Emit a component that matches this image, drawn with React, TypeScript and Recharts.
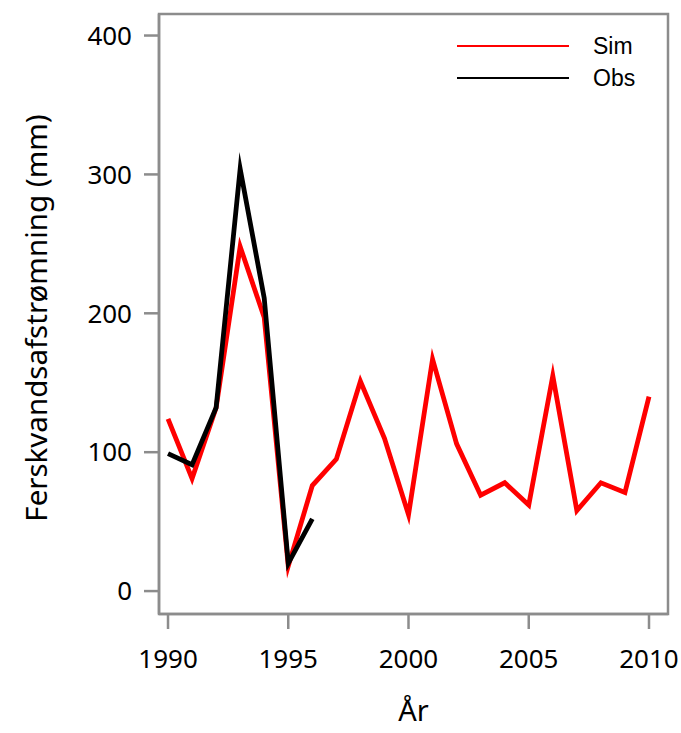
import React from 'react';
import { LineChart, Line, XAxis, YAxis, ReferenceArea, Legend } from 'recharts';

const years = [1990, 1991, 1992, 1993, 1994, 1995, 1996, 1997, 1998, 1999, 2000, 2001, 2002, 2003, 2004, 2005, 2006, 2007, 2008, 2009, 2010];
const simValues = [124, 81, 132, 248, 197, 18, 76, 95, 151, 110, 55, 167, 106, 69, 78, 62, 155, 58, 78, 71, 140];
const obsValues = [99, 91, 132, 304, 211, 20, 52];
const xTicks = [1990, 1995, 2000, 2005, 2010];
const yTicks = [0, 100, 200, 300, 400];
const xDomain = [1989.625, 2010.79];
const yDomain = [-16.5, 415.5];

const data = years.map((y, i) => ({
  year: y,
  sim: simValues[i],
  obs: i < obsValues.length ? obsValues[i] : null,
}));

const AXIS = '#8c8c8c';
const FONT = '"Noto Sans", sans-serif';

const legendItems = [
  { label: 'Sim', color: '#ff0000' },
  { label: 'Obs', color: '#000000' },
];

const LegendContent = () => (
  <div style={{ fontFamily: '"Liberation Sans", Arial, sans-serif', fontSize: 23, color: '#000' }}>
    {legendItems.map((it) => (
      <div key={it.label} style={{ display: 'flex', alignItems: 'center', height: 32 }}>
        <div style={{ width: 112, height: 1.2, background: it.color, marginRight: 24 }} />
        <span>{it.label}</span>
      </div>
    ))}
  </div>
);

export default function App() {
  return (
    <div style={{ position: 'absolute', left: 0, top: 0, background: '#fff' }}>
      <LineChart width={681} height={733} data={data} margin={{ top: 14, right: 13, left: 0, bottom: 0 }}>
        <XAxis
          dataKey="year"
          type="number"
          domain={xDomain}
          allowDataOverflow
          ticks={xTicks}
          height={119}
          tickSize={15}
          tickMargin={21}
          axisLine={{ stroke: AXIS, strokeWidth: 2.5 }}
          tickLine={{ stroke: AXIS, strokeWidth: 2.5 }}
          tick={{ fill: '#000', fontSize: 26, fontFamily: FONT }}
          label={({ viewBox }: any) => (
            <text x={viewBox.x + viewBox.width / 2} y={721} textAnchor="middle" fontSize={29} fontFamily={FONT} fill="#000">År</text>
          )}
        />
        <YAxis
          type="number"
          domain={yDomain}
          allowDataOverflow
          ticks={yTicks}
          width={159}
          tickSize={15}
          tickMargin={12}
          axisLine={{ stroke: AXIS, strokeWidth: 2.5 }}
          tickLine={{ stroke: AXIS, strokeWidth: 2.5 }}
          tick={{ fill: '#000', fontSize: 26, fontFamily: FONT }}
          label={({ viewBox }: any) => {
            const cx = 47;
            const cy = viewBox.y + viewBox.height / 2 + 4;
            return (
              <text x={cx} y={cy} transform={`rotate(-90 ${cx} ${cy})`} textAnchor="middle" fontSize={29.5} fontFamily={FONT} fill="#000">
                Ferskvandsafstrømning (mm)
              </text>
            );
          }}
        />
        <ReferenceArea x1={xDomain[0]} x2={xDomain[1]} y1={yDomain[0]} y2={yDomain[1]} fill="none" stroke={AXIS} strokeWidth={2.5} ifOverflow="visible" />
        <Line dataKey="sim" type="linear" stroke="#ff0000" strokeWidth={4.8} dot={false} isAnimationActive={false} strokeMiterlimit={20} />
        <Line dataKey="obs" type="linear" stroke="#000000" strokeWidth={4.8} dot={false} isAnimationActive={false} strokeMiterlimit={20} connectNulls={false} />
        <Legend
          layout="horizontal"
          verticalAlign="middle"
          align="center"
          content={<LegendContent />}
          wrapperStyle={{ position: 'absolute', top: 30, left: 457, width: 210 }}
        />
      </LineChart>
    </div>
  );
}
